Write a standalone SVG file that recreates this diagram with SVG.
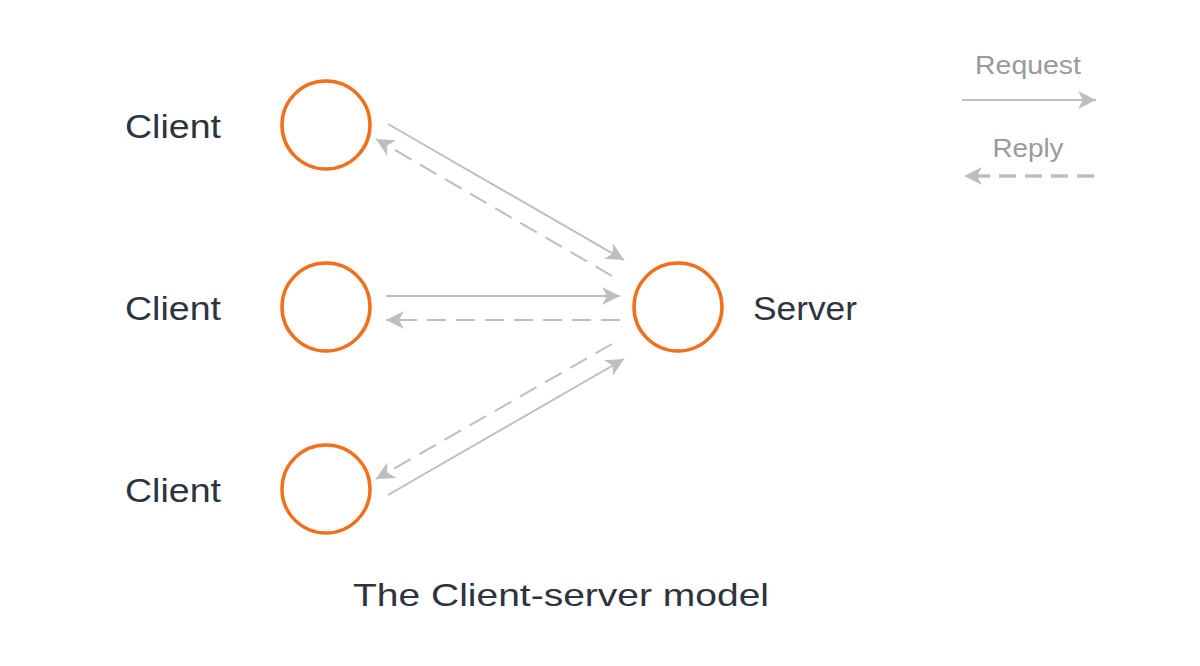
<svg xmlns="http://www.w3.org/2000/svg" width="1200" height="666" viewBox="0 0 1200 666">
  <style>
    .node { fill: none; stroke: #F0701E; stroke-width: 3.5; }
    .label { font-family: "Liberation Sans", Arial, sans-serif; font-size: 34px; fill: #2E3340; }
    .title { font-family: "Liberation Sans", Arial, sans-serif; font-size: 32px; fill: #2E3340; }
    .legend { font-family: "Liberation Sans", Arial, sans-serif; font-size: 26px; fill: #9A9A9A; text-anchor: middle; }
    .req { stroke: #BEBEBE; stroke-width: 2; fill: none; marker-end: url(#head); }
    .rep { stroke: #BEBEBE; stroke-width: 2; fill: none; stroke-dasharray: 19 10; marker-end: url(#head); }
  </style>
  <defs>
    <marker id="head" viewBox="0 0 18 18" refX="18" refY="9" markerWidth="19" markerHeight="18" markerUnits="userSpaceOnUse" orient="auto">
      <path d="M0,0 L18,9 L0,18 L5,9 Z" fill="#BEBEBE"/>
    </marker>
  </defs>

  <rect width="1200" height="666" fill="#FFFFFF"/>

  <!-- nodes -->
  <g id="client1">
    <circle class="node" cx="326" cy="125" r="44"/>
    <text class="label" x="125" y="138" textLength="96" lengthAdjust="spacingAndGlyphs">Client</text>
  </g>
  <g id="client2">
    <circle class="node" cx="326" cy="307" r="44"/>
    <text class="label" x="125" y="320" textLength="96" lengthAdjust="spacingAndGlyphs">Client</text>
  </g>
  <g id="client3">
    <circle class="node" cx="326" cy="489" r="44"/>
    <text class="label" x="125" y="502" textLength="96" lengthAdjust="spacingAndGlyphs">Client</text>
  </g>
  <g id="server">
    <circle class="node" cx="678" cy="307" r="44"/>
    <text class="label" x="753" y="320" textLength="104" lengthAdjust="spacingAndGlyphs">Server</text>
  </g>

  <!-- connectors -->
  <g id="connectors">
    <line class="req" x1="388" y1="124" x2="624" y2="260"/>
    <line class="rep" x1="612" y1="276" x2="376" y2="139"/>
    <line class="req" x1="386" y1="296" x2="620" y2="296"/>
    <line class="rep" x1="620" y1="320" x2="386" y2="320"/>
    <line class="req" x1="388" y1="495" x2="624" y2="359"/>
    <line class="rep" x1="612" y1="344" x2="376" y2="479"/>
  </g>

  <!-- legend -->
  <g id="legend">
    <text class="legend" x="1028" y="74" textLength="106" lengthAdjust="spacingAndGlyphs">Request</text>
    <line x1="962" y1="100" x2="1096" y2="100" stroke="#BEBEBE" stroke-width="2" marker-end="url(#head)"/>
    <text class="legend" x="1028" y="157" textLength="71" lengthAdjust="spacingAndGlyphs">Reply</text>
    <line x1="1094" y1="176" x2="964" y2="176" stroke="#BEBEBE" stroke-width="3.5" stroke-dasharray="17 9" marker-end="url(#head)"/>
  </g>

  <g id="caption">
    <text class="title" x="353" y="606" textLength="416" lengthAdjust="spacingAndGlyphs">The Client-server model</text>
  </g>
</svg>
